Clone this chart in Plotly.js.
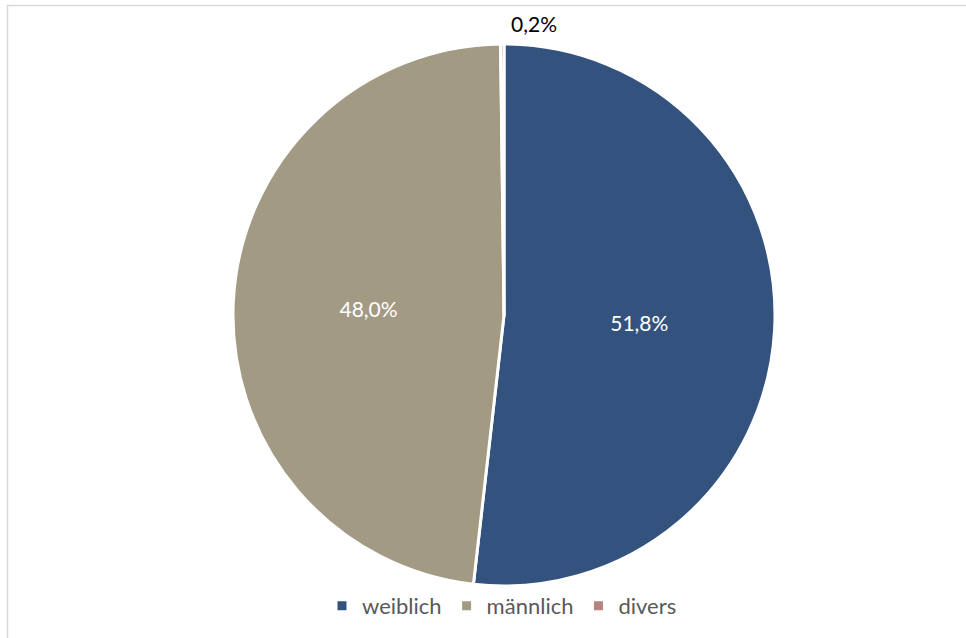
<!DOCTYPE html>
<html>
<head>
<meta charset="utf-8">
<script src="https://cdn.plot.ly/plotly-3.0.1.min.js"></script>
<style>
html,body{margin:0;padding:0;background:#fff;}
#chart{width:966px;height:638px;}
</style>
</head>
<body>
<div id="chart"></div>
<script>
const categories = ['weiblich', 'männlich', 'divers'];
const values = [51.8, 48.0, 0.2];
const labelsText = ['51,8%', '48,0%', '0,2%'];
const colors = ['#34527e', '#a39a84', '#b6847e'];

const W = 966, H = 638;
const FONT = 'Lato, "Open Sans", sans-serif';
const trace = {
  type: 'pie',
  labels: categories,
  values: values,
  text: [labelsText[0], labelsText[1], ''],
  textinfo: 'text',
  hoverinfo: 'label+text',
  sort: false,
  direction: 'clockwise',
  rotation: 0,
  marker: {colors: colors, line: {color: '#ffffff', width: 3}},
  textposition: ['inside', 'inside', 'none'],
  insidetextorientation: 'horizontal',
  insidetextfont: {color: '#ffffff', size: 21, family: FONT},
  domain: {x: [233 / W, 775 / W], y: [1 - 586 / H, 1 - 44 / H]}
};

const layout = {
  width: W, height: H,
  margin: {l: 0, r: 0, t: 0, b: 0},
  paper_bgcolor: '#ffffff',
  font: {family: FONT, color: '#595959'},
  showlegend: true,
  legend: {
    orientation: 'h', x: 502 / W, xanchor: 'center', y: 1 - 606 / H, yanchor: 'middle',
    font: {size: 22, color: '#595959'}, itemwidth: 30, traceorder: 'normal'
  },
  annotations: [{
    xref: 'paper', yref: 'paper', x: 534 / W, y: 1 - 24 / H,
    xanchor: 'center', yanchor: 'middle', showarrow: false,
    text: labelsText[2], font: {size: 21, color: '#000000', family: FONT}
  }],
  shapes: [{
    type: 'rect', xref: 'paper', yref: 'paper',
    x0: 7.5 / W, x1: 1.02, y0: -0.02, y1: 1 - 5.5 / H,
    line: {color: '#d9d9d9', width: 1.5}, fillcolor: 'rgba(0,0,0,0)', layer: 'below'
  }]
};

Plotly.newPlot('chart', [trace], layout, {displayModeBar: false, staticPlot: true});
</script>
</body>
</html>
